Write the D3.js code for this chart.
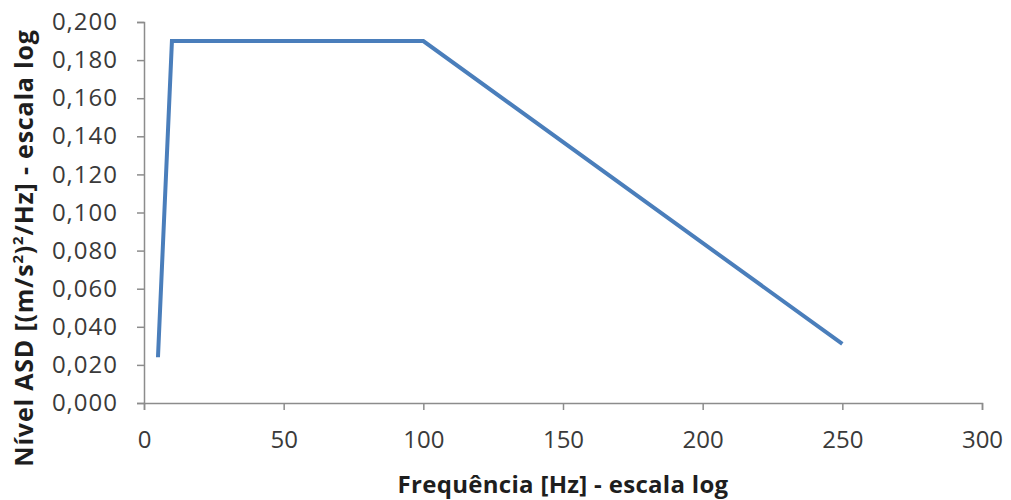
<!DOCTYPE html>
<html lang="pt">
<head>
<meta charset="utf-8">
<title>Nível ASD</title>
<script src="https://d3js.org/d3.v7.min.js"></script>
<style>
  body { margin: 0; background: #fff; }
  .axis text { font-family: "Open Sans", sans-serif; fill: #3a3a3a; }
  .axis path, .axis line { stroke: #8c8c8c; stroke-width: 1.5; }
  .title { font-family: "Open Sans", sans-serif; font-weight: bold; fill: #1e1e1e; }
</style>
</head>
<body>
<svg width="1011" height="500"></svg>
<script>
// frequencia (Hz) e nivel ASD
const freq = [5, 10, 100, 250];
const asd = [0.024, 0.190, 0.190, 0.031];
const xTicks = [0, 50, 100, 150, 200, 250, 300];
const yTicks = [0, 0.02, 0.04, 0.06, 0.08, 0.10, 0.12, 0.14, 0.16, 0.18, 0.20];

const data = freq.map((f, i) => ({ f: f, v: asd[i] }));

const pt = d3.formatLocale({ decimal: ",", thousands: ".", grouping: [3], currency: ["R$", ""] });

let svg = d3.select("svg"),
    margin = { top: 22, right: 29, bottom: 97, left: 144 },
    width = +svg.attr("width") - margin.left - margin.right,
    height = +svg.attr("height") - margin.top - margin.bottom,
    g = svg.append("g").attr("transform", "translate(" + margin.left + "," + margin.top + ")");

let x = d3.scaleLinear().domain([0, 300]).range([0, width]);
let y = d3.scaleLinear().domain([0, 0.2]).range([height, 0]);

g.append("g")
    .attr("class", "axis")
    .attr("transform", "translate(0," + height + ")")
    .call(d3.axisBottom(x).tickValues(xTicks).tickSize(7).tickPadding(21))
    .style("font-size", "24px");

g.append("g")
    .attr("class", "axis")
    .call(d3.axisLeft(y).tickValues(yTicks).tickFormat(pt.format(".3f")).tickSize(7).tickPadding(19))
    .style("font-size", "24px")
    .style("letter-spacing", "1px");

let line = d3.line()
    .x(d => x(d.f))
    .y(d => y(d.v));

g.append("path")
    .datum(data)
    .attr("fill", "none")
    .attr("stroke", "#4a7ebb")
    .attr("stroke-width", 4)
    .attr("stroke-linejoin", "miter")
    .attr("d", line);

// titulo eixo x
svg.append("text")
    .attr("class", "title")
    .attr("x", 563)
    .attr("y", 493)
    .attr("text-anchor", "middle")
    .style("font-size", "24px")
    .style("letter-spacing", "0.3px")
    .text("Frequência  [Hz] - escala log");

// titulo eixo y
let yt = svg.append("text")
    .attr("class", "title")
    .attr("transform", "translate(33,248) rotate(-90)")
    .attr("text-anchor", "middle")
    .style("font-size", "25px")
    .style("letter-spacing", "0.8px");
yt.append("tspan").text("Nível ASD [(m/s");
yt.append("tspan").attr("baseline-shift", "super").style("font-size", "15px").text("2");
yt.append("tspan").text(")");
yt.append("tspan").attr("baseline-shift", "super").style("font-size", "15px").text("2");
yt.append("tspan").text("/Hz] - escala log");
</script>
</body>
</html>
